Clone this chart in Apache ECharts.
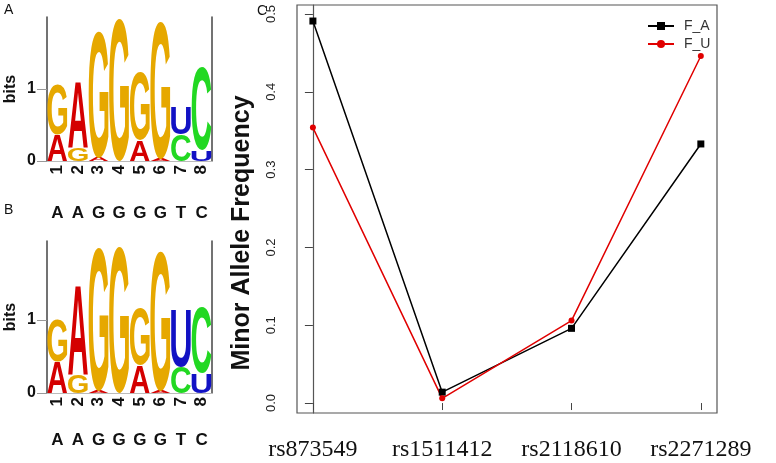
<!DOCTYPE html>
<html><head><meta charset="utf-8">
<script src="https://cdn.jsdelivr.net/npm/echarts@6/dist/echarts.min.js"></script>
<style>html,body{margin:0;padding:0;background:#fff}#c{width:776px;height:463px}</style>
</head><body><div id="c"></div>
<script>
// ---- Panel C data ----
const snps = ['rs873549', 'rs1511412', 'rs2118610', 'rs2271289'];
const F_A = [0.491, 0.014, 0.096, 0.333];
const F_U = [0.354, 0.006, 0.106, 0.446];
const yTicksC = [0, 0.1, 0.2, 0.3, 0.4, 0.5];

// ---- Sequence logo data (bits per letter at each position) ----
const positions = ['1', '2', '3', '4', '5', '6', '7', '8'];
const consensusA = ['A', 'A', 'G', 'G', 'G', 'G', 'T', 'C'];
const consensusB = ['A', 'A', 'G', 'G', 'G', 'G', 'T', 'C'];
const bitsTicks = [0, 1];

const logoA_A = [0.36, 0.92, 0.05, 0.00, 0.29, 0.03, 0.00, 0.00];
const logoA_C = [0.00, 0.00, 0.00, 0.00, 0.00, 0.00, 0.37, 1.16];
const logoA_G = [0.69, 0.18, 1.75, 1.98, 0.95, 1.90, 0.00, 0.00];
const logoA_U = [0.00, 0.00, 0.00, 0.00, 0.00, 0.00, 0.38, 0.15];

const logoB_A = [0.43, 1.22, 0.03, 0.00, 0.38, 0.03, 0.00, 0.00];
const logoB_C = [0.00, 0.00, 0.00, 0.00, 0.00, 0.00, 0.36, 0.90];
const logoB_G = [0.57, 0.25, 1.96, 2.00, 0.78, 1.91, 0.00, 0.00];
const logoB_U = [0.00, 0.00, 0.00, 0.00, 0.00, 0.00, 0.78, 0.27];

const letterColors = { A: '#D40000', C: '#22D822', G: '#E6A800', U: '#1212C4' };
const LOGO_FONT = 'Liberation Sans';
const FS = 100;

// glyph metrics for stretching letters to fill their box
const metrics = {};
(function () {
  const ctx = document.createElement('canvas').getContext('2d');
  ctx.font = 'bold ' + FS + 'px ' + LOGO_FONT;
  ctx.textBaseline = 'middle';
  ctx.textAlign = 'left';
  ['A', 'C', 'G', 'U'].forEach(function (L) {
    const m = ctx.measureText(L);
    metrics[L] = { left: m.actualBoundingBoxLeft, right: m.actualBoundingBoxRight,
                   asc: m.actualBoundingBoxAscent, desc: m.actualBoundingBoxDescent };
  });
})();

function buildStacks(A, C, G, U) {
  const items = [];
  for (let i = 0; i < A.length; i++) {
    const col = [['A', A[i]], ['C', C[i]], ['G', G[i]], ['U', U[i]]]
      .filter(function (d) { return d[1] > 0; })
      .sort(function (a, b) { return a[1] - b[1]; });
    let y = 0;
    col.forEach(function (d) {
      items.push({ pos: i, y0: y, y1: y + d[1], letter: d[0] });
      y += d[1];
    });
  }
  return items;
}
const stacksA = buildStacks(logoA_A, logoA_C, logoA_G, logoA_U);
const stacksB = buildStacks(logoB_A, logoB_C, logoB_G, logoB_U);

function makeRender(items) {
  return function (params, api) {
    const it = items[params.dataIndex];
    const pBot = api.coord([it.pos, it.y0]);
    const pTop = api.coord([it.pos, it.y1]);
    const bw = api.size([1, 0])[0] * 0.96;
    const m = metrics[it.letter];
    const sx = bw / (m.left + m.right);
    const sy = Math.max(pBot[1] - pTop[1], 0.01) / (m.asc + m.desc);
    const x0 = pBot[0] - bw / 2;
    return {
      type: 'text',
      x: x0 + m.left * sx,
      y: pTop[1] + m.asc * sy,
      scaleX: sx,
      scaleY: sy,
      silent: true,
      style: {
        text: it.letter, x: 0, y: 0,
        fill: letterColors[it.letter],
        fontSize: FS, fontFamily: LOGO_FONT, fontWeight: 'bold',
        align: 'left', verticalAlign: 'middle'
      }
    };
  };
}

function logoAxes(gi, cons, consOffset, maxBits) {
  const xs = [
    { type: 'category', gridIndex: gi, data: positions, boundaryGap: true,
      axisLine: { show: true, lineStyle: { color: '#bbbbbb', width: 1 } },
      axisTick: { show: false },
      axisLabel: { interval: 0, rotate: 90, margin: 4, fontSize: 17, fontWeight: 'bold', color: '#111',
                   fontFamily: 'Liberation Sans' },
      splitLine: { show: false } },
    { type: 'category', gridIndex: gi, data: cons, position: 'bottom', offset: consOffset,
      axisLine: { show: false }, axisTick: { show: false },
      axisLabel: { interval: 0, margin: 4, fontSize: 17, fontWeight: 'bold', color: '#111',
                   fontFamily: 'Liberation Sans' },
      splitLine: { show: false } }
  ];
  const ys = [
    { type: 'value', gridIndex: gi, min: 0, max: maxBits, position: 'left',
      axisLine: { show: true, lineStyle: { color: '#444', width: 1.5 } },
      axisTick: { show: true, customValues: bitsTicks, length: 10, lineStyle: { color: '#999' } },
      axisLabel: { customValues: bitsTicks, margin: 11, fontSize: 16, fontWeight: 'bold',
                   color: '#111', fontFamily: 'Liberation Sans' },
      splitLine: { show: false },
      name: 'bits', nameLocation: 'middle', nameGap: 28, nameRotate: 90,
      nameTextStyle: { fontSize: 16, fontWeight: 'bold', color: '#111', fontFamily: 'Liberation Sans' } },
    { type: 'value', gridIndex: gi, min: 0, max: maxBits, position: 'right',
      axisLine: { show: true, lineStyle: { color: '#444', width: 1.5 } },
      axisTick: { show: false }, axisLabel: { show: false }, splitLine: { show: false } }
  ];
  return { xs: xs, ys: ys };
}

const la = logoAxes(0, consensusA, 40, 2);
const lb = logoAxes(1, consensusB, 35, 2.08);

const panelText = { fontSize: 14, fontWeight: 'normal', color: '#111', fontFamily: 'Liberation Sans' };

const chart = echarts.init(document.getElementById('c'), null, { renderer: 'canvas' });
chart.setOption({
  animation: false,
  backgroundColor: '#fff',
  title: [
    { text: 'A', left: 4, top: 3, padding: 0, textStyle: panelText },
    { text: 'B', left: 4, top: 203, padding: 0, textStyle: panelText },
    { text: 'C', left: 257, top: 4, padding: 0, textStyle: panelText }
  ],
  grid: [
    { left: 47, width: 165, top: 17, height: 144 },
    { left: 47, width: 165, top: 241, height: 152 },
    { left: 297, right: 59, top: 5, bottom: 50, show: true, borderColor: '#555', borderWidth: 1.2 }
  ],
  legend: {
    data: ['F_A', 'F_U'], orient: 'vertical', left: 647, top: 19,
    itemWidth: 26, itemHeight: 10, itemGap: 4, padding: 0,
    textStyle: { fontSize: 14, color: '#333', fontFamily: 'Liberation Sans', padding: [0, 0, 0, 5] }
  },
  xAxis: la.xs.concat(lb.xs).concat([
    { type: 'value', gridIndex: 2, min: -0.123, max: 3.125, offset: 3,
      axisLine: { show: false },
      axisTick: { show: true, customValues: [0, 1, 2, 3], length: 7, lineStyle: { color: '#444' } },
      axisLabel: { customValues: [0, 1, 2, 3], formatter: function (v) { return snps[v]; },
                   margin: 22, fontSize: 24, color: '#111', fontFamily: 'Liberation Serif' },
      splitLine: { show: false } }
  ]),
  yAxis: la.ys.concat(lb.ys).concat([
    { type: 'value', gridIndex: 2, min: -0.0128, max: 0.5116,
      axisLine: { show: true, lineStyle: { color: '#555', width: 1.2 } },
      axisTick: { show: true, customValues: yTicksC, length: 8, lineStyle: { color: '#444' } },
      axisLabel: { customValues: yTicksC, formatter: function (v) { return v.toFixed(1); },
                   rotate: 90, margin: 19, fontSize: 13, color: '#222', fontFamily: 'Liberation Sans' },
      splitLine: { show: false },
      name: 'Minor Allele Frequency', nameLocation: 'middle', nameGap: 42, nameRotate: 90,
      nameTextStyle: { fontSize: 25, fontWeight: 'bold', color: '#111', fontFamily: 'Liberation Sans',
                       padding: [0, 48, 0, 0] } }
  ]),
  series: [
    { type: 'custom', name: 'logoA', xAxisIndex: 0, yAxisIndex: 0,
      data: stacksA.map(function (d) { return [d.pos, d.y0, d.y1]; }),
      renderItem: makeRender(stacksA), silent: true },
    { type: 'custom', name: 'logoB', xAxisIndex: 2, yAxisIndex: 2,
      data: stacksB.map(function (d) { return [d.pos, d.y0, d.y1]; }),
      renderItem: makeRender(stacksB), silent: true },
    { type: 'line', name: 'F_A', xAxisIndex: 4, yAxisIndex: 4,
      data: F_A.map(function (v, i) { return [i, v]; }),
      symbol: 'rect', symbolSize: 7, color: '#000',
      lineStyle: { color: '#000', width: 1.5 }, itemStyle: { color: '#000' } },
    { type: 'line', name: 'F_U', xAxisIndex: 4, yAxisIndex: 4,
      data: F_U.map(function (v, i) { return [i, v]; }),
      symbol: 'circle', symbolSize: 6, color: '#e00000',
      lineStyle: { color: '#e00000', width: 1.5 }, itemStyle: { color: '#e00000' } }
  ]
});
</script>
</body></html>
